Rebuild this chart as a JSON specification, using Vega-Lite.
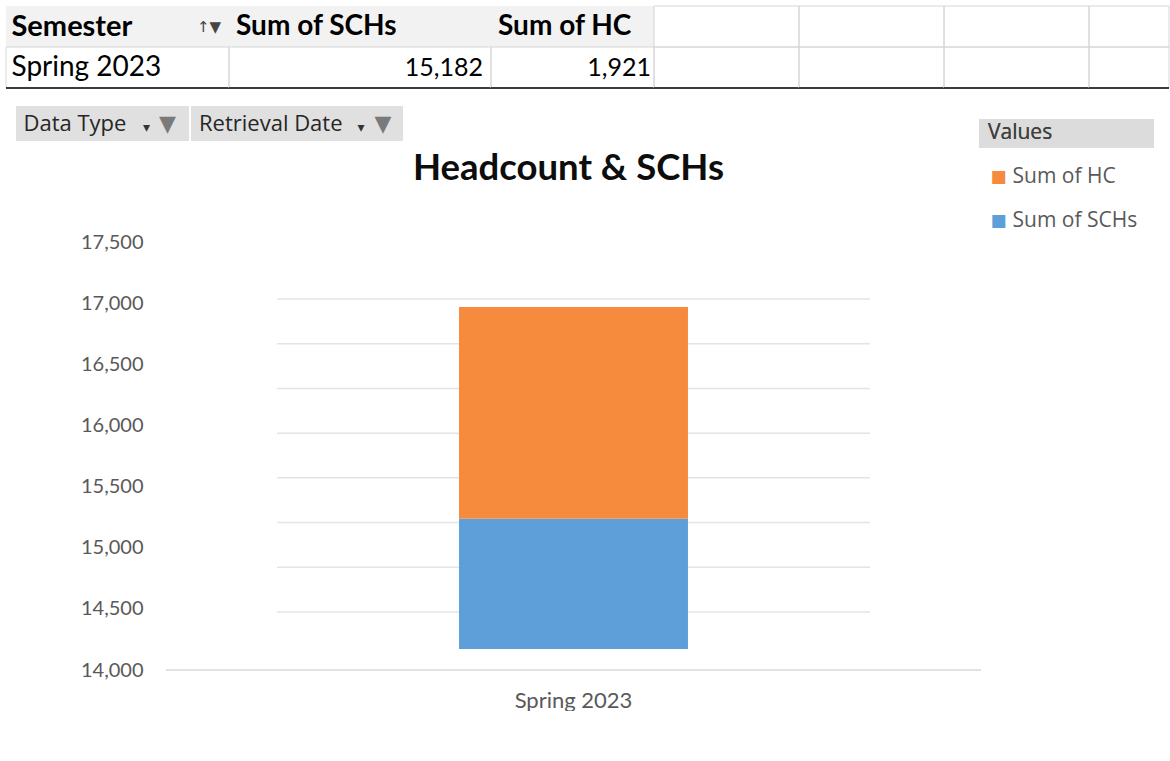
{
  "$schema": "https://vega.github.io/schema/vega-lite/v6.json",
  "background": "white",
  "padding": {"left": 5, "top": 5, "right": 0, "bottom": 0},
  "spacing": 0,
  "config": {"view": {"stroke": null}, "font": "Lato"},
  "datasets": {
    "pivot": [{"Semester": "Spring 2023", "Sum of SCHs": 15182, "Sum of HC": 1921}],
    "bars": [
      {"Semester": "Spring 2023", "series": "Sum of SCHs", "value": 15182},
      {"Semester": "Spring 2023", "series": "Sum of HC", "value": 1921}
    ],
    "gridValues": [
      {"v": 14000}, {"v": 14500}, {"v": 15000}, {"v": 15500},
      {"v": 16000}, {"v": 16500}, {"v": 17000}, {"v": 17500}
    ]
  },
  "vconcat": [
    {
      "hconcat": [
        {
          "width": 223, "height": 100, "data": {"name": "pivot"},
          "layer": [
            {"mark": {"type": "rect", "fill": "#f2f2f2"}, "encoding": {"y": {"datum": "header", "type": "nominal", "scale": {"domain": ["header", "value"], "paddingInner": 0, "paddingOuter": 0.2195, "align": 0}, "axis": null}}},
            {"mark": {"type": "rect", "fill": "transparent", "stroke": "#d6d6d6", "strokeWidth": 1}, "encoding": {"y": {"datum": "value", "type": "nominal"}}},
            {"mark": {"type": "text", "align": "left", "dx": -106, "fontSize": 29, "fontWeight": "bold", "color": "#000000"}, "encoding": {"y": {"datum": "header", "type": "nominal"}, "text": {"value": "Semester"}}},
            {"mark": {"type": "text", "align": "center", "dx": 91.5, "fontSize": 15, "font": "DejaVu Sans", "color": "#444444"}, "encoding": {"y": {"datum": "header", "type": "nominal"}, "text": {"value": "↑▼"}}},
            {"mark": {"type": "text", "align": "left", "dx": -106, "fontSize": 28, "color": "#000000"}, "encoding": {"y": {"datum": "value", "type": "nominal"}, "text": {"field": "Semester"}}},
            {"mark": {"type": "rule", "color": "#3b3b3b", "strokeWidth": 2}, "encoding": {"y": {"datum": "value", "type": "nominal", "bandPosition": 1}}}
          ]
        },
        {
          "width": 262, "height": 100, "data": {"name": "pivot"},
          "layer": [
            {"mark": {"type": "rect", "fill": "#f2f2f2"}, "encoding": {"y": {"datum": "header", "type": "nominal", "scale": {"domain": ["header", "value"], "paddingInner": 0, "paddingOuter": 0.2195, "align": 0}, "axis": null}}},
            {"mark": {"type": "rect", "fill": "transparent", "stroke": "#d6d6d6", "strokeWidth": 1}, "encoding": {"y": {"datum": "value", "type": "nominal"}}},
            {"mark": {"type": "text", "align": "left", "dx": -124, "fontSize": 28, "fontWeight": "bold", "color": "#000000"}, "encoding": {"y": {"datum": "header", "type": "nominal"}, "text": {"value": "Sum of SCHs"}}},
            {"mark": {"type": "text", "align": "right", "dx": 123, "fontSize": 25, "color": "#000000"}, "encoding": {"y": {"datum": "value", "type": "nominal"}, "text": {"field": "Sum of SCHs", "type": "quantitative", "format": ","}}},
            {"mark": {"type": "rule", "color": "#3b3b3b", "strokeWidth": 2}, "encoding": {"y": {"datum": "value", "type": "nominal", "bandPosition": 1}}}
          ]
        },
        {
          "width": 163, "height": 100, "data": {"name": "pivot"},
          "layer": [
            {"mark": {"type": "rect", "fill": "#f2f2f2"}, "encoding": {"y": {"datum": "header", "type": "nominal", "scale": {"domain": ["header", "value"], "paddingInner": 0, "paddingOuter": 0.2195, "align": 0}, "axis": null}}},
            {"mark": {"type": "rect", "fill": "transparent", "stroke": "#d6d6d6", "strokeWidth": 1}, "encoding": {"y": {"datum": "value", "type": "nominal"}}},
            {"mark": {"type": "text", "align": "left", "dx": -74.5, "fontSize": 28, "fontWeight": "bold", "color": "#000000"}, "encoding": {"y": {"datum": "header", "type": "nominal"}, "text": {"value": "Sum of HC"}}},
            {"mark": {"type": "text", "align": "right", "dx": 78.5, "fontSize": 25, "color": "#000000"}, "encoding": {"y": {"datum": "value", "type": "nominal"}, "text": {"field": "Sum of HC", "type": "quantitative", "format": ","}}},
            {"mark": {"type": "rule", "color": "#3b3b3b", "strokeWidth": 2}, "encoding": {"y": {"datum": "value", "type": "nominal", "bandPosition": 1}}}
          ]
        },
        {
          "width": 145, "height": 100, "data": {"name": "pivot"},
          "layer": [
            {"mark": {"type": "rect", "fill": "transparent", "stroke": "#d6d6d6", "strokeWidth": 1}, "encoding": {"y": {"datum": "header", "type": "nominal", "scale": {"domain": ["header", "value"], "paddingInner": 0, "paddingOuter": 0.2195, "align": 0}, "axis": null}}},
            {"mark": {"type": "rect", "fill": "transparent", "stroke": "#d6d6d6", "strokeWidth": 1}, "encoding": {"y": {"datum": "value", "type": "nominal"}}},
            {"mark": {"type": "rule", "color": "#3b3b3b", "strokeWidth": 2}, "encoding": {"y": {"datum": "value", "type": "nominal", "bandPosition": 1}}}
          ]
        },
        {
          "width": 145, "height": 100, "data": {"name": "pivot"},
          "layer": [
            {"mark": {"type": "rect", "fill": "transparent", "stroke": "#d6d6d6", "strokeWidth": 1}, "encoding": {"y": {"datum": "header", "type": "nominal", "scale": {"domain": ["header", "value"], "paddingInner": 0, "paddingOuter": 0.2195, "align": 0}, "axis": null}}},
            {"mark": {"type": "rect", "fill": "transparent", "stroke": "#d6d6d6", "strokeWidth": 1}, "encoding": {"y": {"datum": "value", "type": "nominal"}}},
            {"mark": {"type": "rule", "color": "#3b3b3b", "strokeWidth": 2}, "encoding": {"y": {"datum": "value", "type": "nominal", "bandPosition": 1}}}
          ]
        },
        {
          "width": 145, "height": 100, "data": {"name": "pivot"},
          "layer": [
            {"mark": {"type": "rect", "fill": "transparent", "stroke": "#d6d6d6", "strokeWidth": 1}, "encoding": {"y": {"datum": "header", "type": "nominal", "scale": {"domain": ["header", "value"], "paddingInner": 0, "paddingOuter": 0.2195, "align": 0}, "axis": null}}},
            {"mark": {"type": "rect", "fill": "transparent", "stroke": "#d6d6d6", "strokeWidth": 1}, "encoding": {"y": {"datum": "value", "type": "nominal"}}},
            {"mark": {"type": "rule", "color": "#3b3b3b", "strokeWidth": 2}, "encoding": {"y": {"datum": "value", "type": "nominal", "bandPosition": 1}}}
          ]
        },
        {
          "width": 80, "height": 100, "data": {"name": "pivot"},
          "layer": [
            {"mark": {"type": "rect", "fill": "transparent", "stroke": "#d6d6d6", "strokeWidth": 1}, "encoding": {"y": {"datum": "header", "type": "nominal", "scale": {"domain": ["header", "value"], "paddingInner": 0, "paddingOuter": 0.2195, "align": 0}, "axis": null}}},
            {"mark": {"type": "rect", "fill": "transparent", "stroke": "#d6d6d6", "strokeWidth": 1}, "encoding": {"y": {"datum": "value", "type": "nominal"}}},
            {"mark": {"type": "rule", "color": "#3b3b3b", "strokeWidth": 2}, "encoding": {"y": {"datum": "value", "type": "nominal", "bandPosition": 1}}}
          ]
        }
      ],
      "spacing": 0,
      "bounds": "flush"
    },
    {
      "hconcat": [
        {"width": 8, "height": 35, "data": {"values": []}, "mark": "point"},
        {
          "width": 173, "height": 35, "data": {"name": "pivot"},
          "view": {"fill": "#e0e0e0", "stroke": null},
          "layer": [
            {"mark": {"type": "text", "align": "left", "dx": -79, "font": "Open Sans", "fontSize": 22, "color": "#262626"}, "encoding": {"text": {"value": "Data Type"}}},
            {"mark": {"type": "text", "align": "center", "dx": 44, "dy": 4, "font": "DejaVu Sans", "fontSize": 14, "color": "#333333"}, "encoding": {"text": {"value": "▾"}}},
            {"mark": {"type": "text", "align": "center", "dx": 65, "font": "DejaVu Sans", "fontSize": 22, "color": "#7a7a7a"}, "encoding": {"text": {"value": "▼"}}}
          ]
        },
        {
          "width": 212, "height": 35, "data": {"name": "pivot"},
          "view": {"fill": "#e0e0e0", "stroke": null},
          "layer": [
            {"mark": {"type": "text", "align": "left", "dx": -98, "font": "Open Sans", "fontSize": 22, "color": "#262626"}, "encoding": {"text": {"value": "Retrieval Date"}}},
            {"mark": {"type": "text", "align": "center", "dx": 64, "dy": 4, "font": "DejaVu Sans", "fontSize": 14, "color": "#333333"}, "encoding": {"text": {"value": "▾"}}},
            {"mark": {"type": "text", "align": "center", "dx": 86, "font": "DejaVu Sans", "fontSize": 22, "color": "#7a7a7a"}, "encoding": {"text": {"value": "▼"}}}
          ]
        },
        {
          "width": 572, "height": 125, "data": {"name": "pivot"},
          "mark": {"type": "text", "align": "center", "dx": -122.5, "dy": 0, "font": "Lato", "fontSize": 36.5, "fontWeight": "bold", "color": "#0d0d0d"},
          "encoding": {"text": {"value": "Headcount & SCHs"}}
        },
        {
          "width": 175, "height": 125, "data": {"name": "bars"},
          "layer": [
            {"mark": {"type": "rule", "color": "#dcdcdc", "strokeWidth": 29}, "encoding": {"y": {"datum": "Values", "type": "nominal", "scale": {"type": "point", "domain": ["Values", "Sum of HC", "Sum of SCHs"], "padding": 0.42, "align": 0.743}, "axis": null}}},
            {"mark": {"type": "text", "align": "left", "dx": -78.5, "font": "Open Sans", "fontSize": 21, "color": "#404040"}, "encoding": {"y": {"datum": "Values", "type": "nominal"}, "text": {"value": "Values"}}},
            {"mark": {"type": "text", "align": "center", "dx": -68, "font": "DejaVu Sans", "fontSize": 17}, "encoding": {"y": {"field": "series", "type": "nominal"}, "text": {"value": "■"}, "color": {"field": "series", "type": "nominal", "scale": {"domain": ["Sum of HC", "Sum of SCHs"], "range": ["#F68B3E", "#5E9FDA"]}, "legend": null}}},
            {"mark": {"type": "text", "align": "left", "dx": -54, "font": "Open Sans", "fontSize": 21, "color": "#595959"}, "encoding": {"y": {"field": "series", "type": "nominal"}, "text": {"field": "series", "type": "nominal"}}}
          ]
        }
      ],
      "spacing": 2,
      "bounds": "flush"
    },
    {
      "hconcat": [
        {"width": 158, "height": 428, "data": {"values": []}, "mark": "point"},
        {
          "width": 815, "height": 428,
          "layer": [
            {
              "data": {"name": "gridValues"},
              "mark": {"type": "tick", "color": "#d9d9d9", "thickness": 1.5, "size": 593},
              "encoding": {
                "x": {"datum": "Spring 2023", "type": "nominal", "axis": {"title": null, "domain": false, "ticks": false, "labelAngle": 0, "labelFontSize": 22, "labelColor": "#595959", "labelFont": "Lato", "labelPadding": 20}},
                "y": {"field": "v", "type": "quantitative", "scale": {"domain": [13351.4, 18137.4], "nice": false, "zero": false}, "axis": null}
              }
            },
            {
              "data": {"name": "bars"},
              "mark": {"type": "bar", "width": {"band": 0.386}},
              "encoding": {
                "x": {"field": "Semester", "type": "nominal", "scale": {"paddingInner": 0, "paddingOuter": 0.187}, "axis": {"title": null, "domain": false, "ticks": false, "labelAngle": 0, "labelFontSize": 22, "labelColor": "#595959", "labelFont": "Lato", "labelPadding": 20}},
                "y": {"field": "value", "type": "quantitative", "stack": "zero", "scale": {"domain": [14000, 17692.7], "range": [407, 0], "clamp": true, "nice": false, "zero": false}, "axis": null},
                "color": {"field": "series", "type": "nominal", "scale": {"domain": ["Sum of HC", "Sum of SCHs"], "range": ["#F68B3E", "#5E9FDA"]}, "legend": null},
                "order": {"field": "series", "sort": "descending"}
              }
            },
            {
              "data": {"name": "pivot"},
              "mark": {"type": "rule", "color": "#d9d9d9", "strokeWidth": 1.5},
              "encoding": {
                "y": {"datum": 14000, "type": "quantitative", "scale": {"domain": [14000, 17500], "nice": false, "zero": false}, "axis": {"orient": "left", "values": [14000, 14500, 15000, 15500, 16000, 16500, 17000, 17500], "labelExpr": "format(datum.value, ',')", "grid": false, "domain": false, "ticks": false, "tickSize": 0, "labelFontSize": 20, "labelColor": "#595959", "labelFont": "Lato", "labelPadding": 23, "title": null}}
              }
            }
          ],
          "resolve": {"scale": {"y": "independent"}, "axis": {"y": "independent"}}
        }
      ],
      "spacing": 2,
      "bounds": "flush"
    }
  ]
}
